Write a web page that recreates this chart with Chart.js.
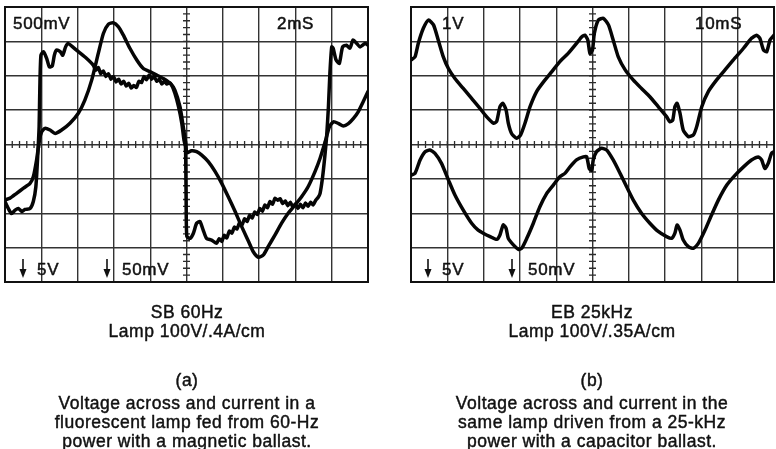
<!DOCTYPE html>
<html><head><meta charset="utf-8">
<script src="https://cdn.jsdelivr.net/npm/chart.js@4"></script>
<style>
html,body{margin:0;padding:0;background:#fff;}
body{width:776px;height:449px;position:relative;overflow:hidden;}
.pane{position:absolute;top:0;width:388px;height:449px;}
</style></head><body>
<div class="pane" style="left:0"><canvas id="cA" width="388" height="449"></canvas></div>
<div class="pane" style="left:388px"><canvas id="cB" width="388" height="449"></canvas></div>
<script>
// ---- data (x in horizontal divisions 0..10, y in vertical divisions -4..4) ----
const sbVoltX = [0,0.09,0.18,0.28,0.37,0.46,0.55,0.69,0.78,0.85,0.90,0.94,0.96,0.99,1.06,1.15,1.22,1.30,1.36,1.42,1.52,1.59,1.67,1.74,1.84,2.02,2.25,2.43,2.50,2.57,2.64,2.71,2.78,2.85,2.92,2.99,3.06,3.13,3.20,3.27,3.34,3.41,3.48,3.55,3.62,3.69,3.76,3.83,3.90,3.97,4.04,4.11,4.18,4.25,4.32,4.39,4.46,4.53,4.59,4.68,4.78,4.87,4.93,4.97,4.98,4.99,5.01,5.10,5.19,5.28,5.37,5.46,5.55,5.69,5.83,5.90,5.97,6.04,6.11,6.18,6.25,6.32,6.39,6.46,6.53,6.60,6.67,6.74,6.81,6.88,6.95,7.02,7.09,7.16,7.23,7.30,7.37,7.44,7.51,7.58,7.65,7.72,7.79,7.86,7.93,8.00,8.07,8.14,8.21,8.28,8.35,8.42,8.49,8.56,8.62,8.68,8.75,8.81,8.86,8.91,8.95,9.00,9.04,9.12,9.21,9.30,9.41,9.50,9.59,9.69,9.78,9.92,10.0];
const sbVoltY = [-1.66,-1.86,-2.01,-1.91,-1.86,-1.95,-1.89,-1.86,-1.66,-1.23,-0.36,0.52,1.68,2.60,2.70,2.50,2.26,2.28,2.60,2.75,2.70,2.60,2.84,2.94,2.86,2.70,2.50,2.31,2.16,2.24,2.06,2.14,1.98,2.06,1.90,1.98,1.82,1.90,1.76,1.84,1.70,1.78,1.64,1.72,1.66,1.84,1.80,1.98,1.88,2.02,1.90,1.98,1.84,1.90,1.76,1.84,1.76,1.80,1.73,1.49,1.10,0.62,0.13,-0.06,-0.55,-1.71,-2.68,-2.73,-2.58,-2.29,-2.24,-2.49,-2.73,-2.78,-2.87,-2.74,-2.82,-2.64,-2.72,-2.52,-2.58,-2.40,-2.46,-2.28,-2.34,-2.16,-2.24,-2.06,-2.14,-1.96,-2.04,-1.86,-1.94,-1.76,-1.84,-1.66,-1.74,-1.56,-1.62,-1.58,-1.72,-1.64,-1.78,-1.68,-1.82,-1.72,-1.86,-1.74,-1.84,-1.70,-1.80,-1.68,-1.76,-1.62,-1.55,-1.42,-0.94,-0.35,0.23,1.10,2.07,2.84,2.80,2.46,2.36,2.84,2.89,2.80,3.04,2.94,2.84,2.94,2.89];
const sbCurrX = [0,0.14,0.32,0.51,0.69,0.78,0.87,0.95,1.01,1.10,1.24,1.38,1.56,1.79,2.02,2.20,2.39,2.57,2.71,2.85,2.98,3.12,3.26,3.44,3.63,3.81,3.99,4.18,4.36,4.55,4.68,4.82,4.91,4.98,5.01,5.14,5.28,5.42,5.60,5.79,5.97,6.15,6.34,6.52,6.71,6.84,6.98,7.12,7.25,7.44,7.62,7.80,7.99,8.17,8.35,8.54,8.68,8.82,8.94,9.05,9.19,9.32,9.46,9.60,9.73,9.87,10.0];
const sbCurrY = [-1.61,-1.56,-1.42,-1.27,-1.13,-0.94,-0.45,0.13,0.37,0.47,0.42,0.32,0.42,0.62,0.91,1.29,1.88,2.65,3.23,3.50,3.54,3.43,3.18,2.80,2.46,2.21,2.12,2.02,1.92,1.78,1.58,1.10,0.52,0.03,-0.24,-0.18,-0.21,-0.31,-0.50,-0.79,-1.13,-1.52,-1.95,-2.39,-2.82,-3.12,-3.28,-3.21,-2.97,-2.63,-2.29,-2.00,-1.76,-1.52,-1.23,-0.79,-0.40,0.08,0.52,0.66,0.61,0.54,0.61,0.76,0.95,1.25,1.54];
const ebUpX = [0,0.11,0.20,0.34,0.48,0.62,0.75,0.89,1.03,1.21,1.44,1.67,1.90,2.08,2.27,2.36,2.45,2.53,2.62,2.68,2.77,2.91,3.02,3.14,3.28,3.46,3.65,3.88,4.10,4.33,4.56,4.70,4.79,4.87,4.93,5.00,5.05,5.16,5.30,5.44,5.57,5.71,5.90,6.12,6.35,6.58,6.81,7.04,7.13,7.21,7.27,7.33,7.41,7.50,7.64,7.78,7.87,8.01,8.19,8.42,8.65,8.88,9.16,9.38,9.52,9.61,9.71,9.80,9.89,10.0];
const ebUpY = [2.46,2.55,2.94,3.38,3.62,3.48,3.04,2.55,2.21,1.92,1.63,1.34,1.05,0.81,0.62,0.67,1.10,1.20,1.00,0.62,0.32,0.18,0.28,0.62,1.10,1.54,1.82,2.12,2.41,2.65,2.94,3.13,3.18,3.04,2.65,2.75,3.23,3.62,3.67,3.48,3.04,2.55,2.17,1.88,1.63,1.39,1.10,0.81,0.66,0.71,1.10,1.20,0.91,0.42,0.23,0.28,0.52,1.10,1.54,1.88,2.17,2.46,2.80,3.09,3.18,3.09,2.75,2.70,3.04,3.18];
const ebLowX = [0,0.11,0.25,0.39,0.52,0.66,0.84,1.03,1.21,1.44,1.67,1.85,1.99,2.18,2.36,2.45,2.54,2.62,2.68,2.82,2.96,3.05,3.19,3.37,3.55,3.74,3.92,4.10,4.24,4.38,4.56,4.75,4.84,4.91,4.98,5.02,5.11,5.25,5.39,5.57,5.76,5.94,6.12,6.35,6.58,6.81,7.04,7.18,7.27,7.33,7.41,7.50,7.64,7.78,7.92,8.10,8.28,8.47,8.70,8.93,9.16,9.38,9.57,9.66,9.75,9.84,9.93,10.0];
const ebLowY = [-0.89,-0.84,-0.45,-0.21,-0.16,-0.26,-0.55,-1.03,-1.47,-1.91,-2.29,-2.49,-2.58,-2.68,-2.76,-2.63,-2.34,-2.44,-2.73,-2.92,-3.05,-3.02,-2.73,-2.29,-1.81,-1.42,-1.18,-0.94,-0.84,-0.65,-0.45,-0.36,-0.36,-0.70,-0.75,-0.45,-0.21,-0.11,-0.16,-0.45,-0.84,-1.23,-1.61,-2.00,-2.29,-2.53,-2.68,-2.73,-2.58,-2.34,-2.49,-2.78,-2.97,-3.02,-2.87,-2.49,-2.05,-1.61,-1.18,-0.89,-0.65,-0.45,-0.36,-0.45,-0.70,-0.55,-0.26,-0.21];

const sbLabels = {topLeft:'500mV', topRight:'2mS', low1:'5V', low2:'50mV'};
const ebLabels = {topLeft:'1V', topRight:'10mS', low1:'5V', low2:'50mV'};
const sbCaption = ['SB 60Hz','Lamp 100V/.4A/cm','(a)','Voltage across and current in a','fluorescent lamp fed from 60-Hz','power with a magnetic ballast.'];
const ebCaption = ['EB 25kHz','Lamp 100V/.35A/cm','(b)','Voltage across and current in the','same lamp driven from a 25-kHz','power with a capacitor ballast.'];

const pts = (xs, ys) => xs.map((x, i) => ({x: x, y: ys[i]}));

function heavyText(ctx, t, x, y, w) {
  ctx.fillText(t, x, y);
  ctx.lineWidth = w; ctx.strokeText(t, x, y);
}

const decor = {
  id: 'scopeDecor',
  beforeDatasetsDraw(chart, args, o) {
    const ctx = chart.ctx, a = chart.chartArea, sx = chart.scales.x, sy = chart.scales.y;
    const cx = sx.getPixelForValue(5), cy = sy.getPixelForValue(0);
    ctx.save();
    ctx.strokeStyle = '#2b2b2b'; ctx.lineWidth = 1.3;
    ctx.beginPath();
    for (let v = 0; v <= 10.001; v += 0.2) {
      const p = sx.getPixelForValue(v);
      ctx.moveTo(p, cy - 3.5); ctx.lineTo(p, cy + 3.5);
    }
    for (let v = -4; v <= 4.001; v += 0.2) {
      const p = sy.getPixelForValue(v);
      ctx.moveTo(cx - 3.5, p); ctx.lineTo(cx + 3.5, p);
    }
    ctx.stroke();
    ctx.lineWidth = 2; ctx.strokeStyle = '#111';
    ctx.strokeRect(a.left, a.top, a.right - a.left, a.bottom - a.top);
    ctx.restore();
  },
  afterDraw(chart, args, o) {
    const ctx = chart.ctx;
    ctx.save();
    ctx.fillStyle = '#111'; ctx.strokeStyle = '#111'; ctx.lineJoin = 'round';
    ctx.textBaseline = 'alphabetic'; ctx.textAlign = 'left';
    ctx.font = '17px "Liberation Sans", Arial, sans-serif';
    try { ctx.letterSpacing = '0.7px'; } catch (e) {}
    const L = o.labels, P = o.pos;
    heavyText(ctx, L.topLeft, P.tl, 29, 0.5);
    heavyText(ctx, L.topRight, P.tr, 29, 0.5);
    heavyText(ctx, L.low1, P.l1, 275, 0.5);
    heavyText(ctx, L.low2, P.l2, 275, 0.5);
    // arrows
    ctx.lineWidth = 1.6;
    [P.a1, P.a2].forEach(x => {
      ctx.beginPath(); ctx.moveTo(x, 259); ctx.lineTo(x, 272); ctx.stroke();
      ctx.beginPath(); ctx.moveTo(x - 3.5, 269); ctx.lineTo(x + 3.5, 269); ctx.lineTo(x, 278); ctx.closePath(); ctx.fill();
    });
    // caption
    ctx.textAlign = 'center';
    ctx.font = '17.5px "Liberation Sans", Arial, sans-serif';
    try { ctx.letterSpacing = '0.5px'; } catch (e) {}
    const base = [318, 337, 386, 409, 428, 447];
    o.caption.forEach((t, i) => heavyText(ctx, t, P.cap, base[i], 0.45));
    ctx.restore();
  }
};

function scaleOpts(min, max) {
  return {
    type: 'linear', min: min, max: max,
    ticks: {display: false, stepSize: 1},
    grid: {color: '#333', lineWidth: 1.4, drawTicks: false},
    border: {display: false}
  };
}

function makeScope(id, sets, labels, caption, pos, pad) {
  return new Chart(document.getElementById(id), {
    type: 'line',
    data: {
      datasets: sets.map(s => ({
        data: pts(s[0], s[1]), borderColor: '#050505', borderWidth: 3.5,
        pointRadius: 0, tension: 0.2, fill: false, borderJoinStyle: 'round', borderCapStyle: 'round'
      }))
    },
    options: {
      responsive: false, animation: false, parsing: false,
      layout: {padding: pad},
      plugins: {legend: {display: false}, tooltip: {enabled: false},
        scopeDecor: {labels: labels, caption: caption, pos: pos}},
      scales: {x: scaleOpts(0, 10), y: scaleOpts(-4, 4)}
    },
    plugins: [decor]
  });
}

makeScope('cA', [[sbVoltX, sbVoltY], [sbCurrX, sbCurrY]], sbLabels, sbCaption,
  {tl: 13, tr: 277, l1: 37, l2: 122, a1: 23, a2: 107, cap: 187},
  {left: 5, top: 7, right: 20, bottom: 167});
makeScope('cB', [[ebUpX, ebUpY], [ebLowX, ebLowY]], ebLabels, ebCaption,
  {tl: 54, tr: 307, l1: 54, l2: 140, a1: 40, a2: 124, cap: 204},
  {left: 23, top: 7, right: 2, bottom: 167});
</script>
</body></html>
